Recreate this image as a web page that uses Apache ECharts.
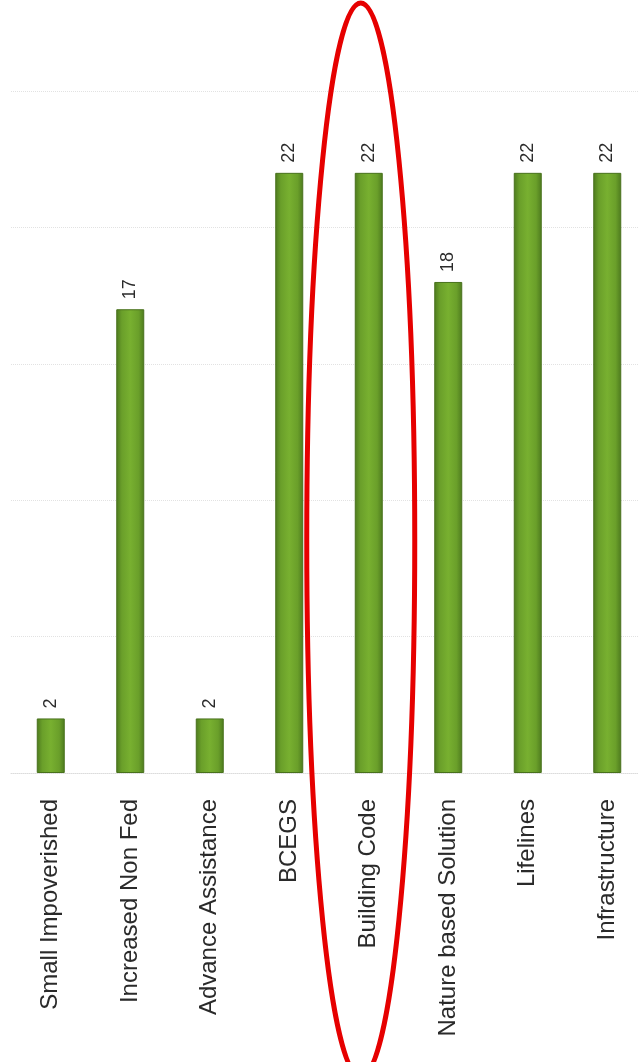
<!DOCTYPE html>
<html>
<head>
<meta charset="utf-8">
<script src="https://cdn.jsdelivr.net/npm/echarts@6/dist/echarts.min.js"></script>
<style>
html,body{margin:0;padding:0;background:#fff;overflow:hidden;}
#chart{width:648px;height:1062px;}
</style>
</head>
<body>
<div id="chart"></div>
<script>
var categories = ['Small Impoverished','Increased Non Fed','Advance Assistance','BCEGS','Building Code','Nature based Solution','Lifelines','Infrastructure'];
var values = [2, 17, 2, 22, 22, 18, 22, 22];
var highlighted = 'Building Code';

var chart = echarts.init(document.getElementById('chart'));
chart.setOption({
  backgroundColor: '#ffffff',
  animation: false,
  grid: {left: 11, right: 1, top: 91, bottom: 289, containLabel: false},
  xAxis: {
    type: 'category',
    data: categories,
    axisLine: {show: true, lineStyle: {color: '#dcdcdc', type: 'dotted', width: 1}},
    axisTick: {show: false},
    axisLabel: {
      rotate: 90,
      margin: 26,
      fontSize: 24,
      color: '#2a2a2a',
      fontFamily: 'Liberation Sans, Arial, sans-serif',
      interval: 0
    }
  },
  yAxis: {
    type: 'value',
    min: 0,
    max: 25,
    interval: 5,
    axisLabel: {show: false},
    axisLine: {show: false},
    axisTick: {show: false},
    splitLine: {show: true, lineStyle: {color: '#e2e2e2', type: 'dotted', width: 1}}
  },
  series: [{
    type: 'bar',
    data: values,
    barWidth: 28,
    itemStyle: {
      color: new echarts.graphic.LinearGradient(0, 0, 1, 0, [
        {offset: 0, color: '#4d7a1e'},
        {offset: 0.2, color: '#6a9f2a'},
        {offset: 0.5, color: '#78b030'},
        {offset: 0.8, color: '#6a9f2a'},
        {offset: 1, color: '#4d7a1e'}
      ]),
      borderColor: '#48711c',
      borderWidth: 1
    },
    label: {
      show: true,
      position: 'top',
      rotate: 90,
      align: 'left',
      verticalAlign: 'middle',
      distance: 10,
      fontSize: 18,
      color: '#2a2a2a',
      fontFamily: 'Liberation Sans, Arial, sans-serif'
    }
  }]
});

var px = chart.convertToPixel({xAxisIndex: 0}, highlighted);
chart.setOption({
  graphic: [{
    type: 'ellipse',
    shape: {cx: px - 8, cy: 540, rx: 54, ry: 537},
    style: {fill: 'none', stroke: '#e60000', lineWidth: 5},
    z: 100
  }]
});
</script>
</body>
</html>
